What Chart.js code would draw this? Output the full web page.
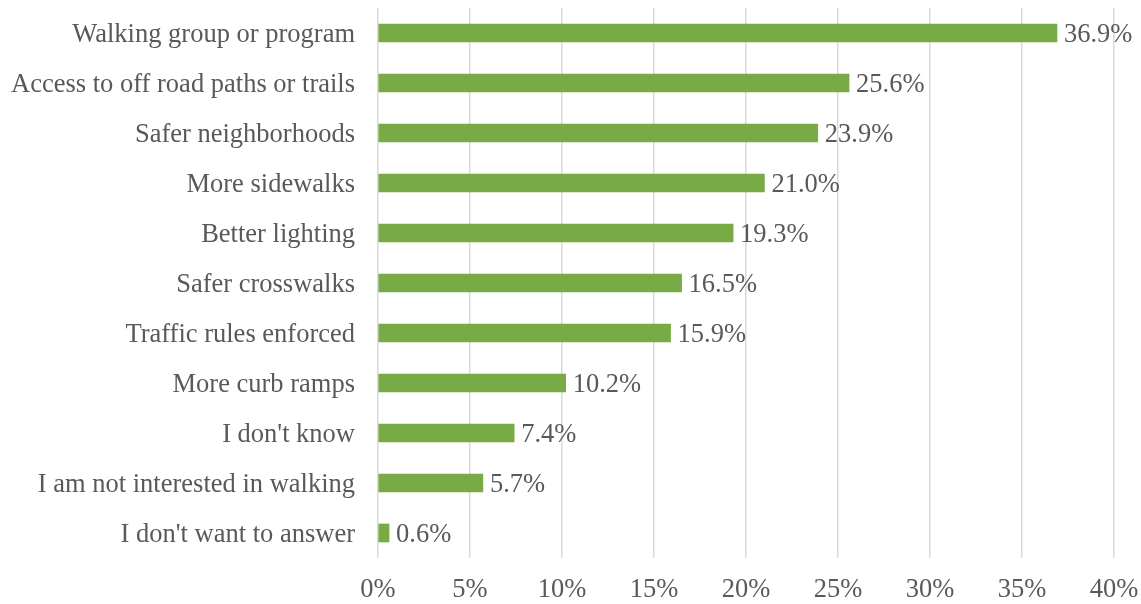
<!DOCTYPE html>
<html>
<head>
<meta charset="utf-8">
<script src="https://cdn.jsdelivr.net/npm/chart.js@4"></script>
<style>
  html, body { margin: 0; padding: 0; background: #fff; }
  #wrap { width: 1141px; height: 604px; }
</style>
</head>
<body>
<div id="wrap"><canvas id="walkChart" width="1141" height="604"></canvas></div>
<script>
// answers, top to bottom
var categories = [
  'Walking group or program',
  'Access to off road paths or trails',
  'Safer neighborhoods',
  'More sidewalks',
  'Better lighting',
  'Safer crosswalks',
  'Traffic rules enforced',
  'More curb ramps',
  "I don't know",
  'I am not interested in walking',
  "I don't want to answer"
];
var percents = [36.9, 25.6, 23.9, 21.0, 19.3, 16.5, 15.9, 10.2, 7.4, 5.7, 0.6];
var tickValues = [0, 5, 10, 15, 20, 25, 30, 35, 40];

var textColor = '#595959';
var fontFamily = '"Liberation Serif", "Times New Roman", serif';
var fontSize = 26.5;

// write the value next to the end of each bar
var valueLabels = {
  id: 'valueLabels',
  afterDatasetsDraw: function (chart) {
    var ctx = chart.ctx;
    var meta = chart.getDatasetMeta(0);
    ctx.save();
    ctx.font = fontSize + 'px ' + fontFamily;
    ctx.fillStyle = textColor;
    ctx.textAlign = 'left';
    ctx.textBaseline = 'middle';
    meta.data.forEach(function (bar, i) {
      ctx.fillText(percents[i].toFixed(1) + '%', bar.x + 7, bar.y + 2);
    });
    ctx.restore();
  }
};

var ctx = document.getElementById('walkChart').getContext('2d');
window.walkChart = new Chart(ctx, {
  type: 'bar',
  data: {
    labels: categories,
    datasets: [{
      data: percents,
      backgroundColor: '#78AB46',
      barThickness: 18
    }]
  },
  options: {
    indexAxis: 'y',
    responsive: false,
    animation: false,
    layout: { padding: { top: 8, right: 27, left: 0, bottom: 0 } },
    plugins: {
      legend: { display: false },
      tooltip: { enabled: false }
    },
    scales: {
      x: {
        min: 0,
        max: 40,
        afterBuildTicks: function (axis) {
          axis.ticks = tickValues.map(function (v) { return { value: v }; });
        },
        afterFit: function (axis) {
          axis.height = 46;
          axis.paddingLeft = 0;
          axis.paddingRight = 0;
        },
        grid: { color: '#D9D9D9', lineWidth: 1.5, drawTicks: false },
        border: { display: false },
        ticks: {
          padding: 16,
          color: textColor,
          font: { family: fontFamily, size: fontSize },
          maxRotation: 0,
          callback: function (v) { return v + '%'; }
        }
      },
      y: {
        afterFit: function (axis) {
          axis.width = 378;
          axis.paddingTop = 0;
          axis.paddingBottom = 0;
        },
        grid: { display: false, drawTicks: false },
        border: { display: false },
        ticks: {
          padding: 23,
          labelOffset: 2,
          color: textColor,
          font: { family: fontFamily, size: fontSize },
          autoSkip: false
        }
      }
    }
  },
  plugins: [valueLabels]
});
</script>
</body>
</html>
